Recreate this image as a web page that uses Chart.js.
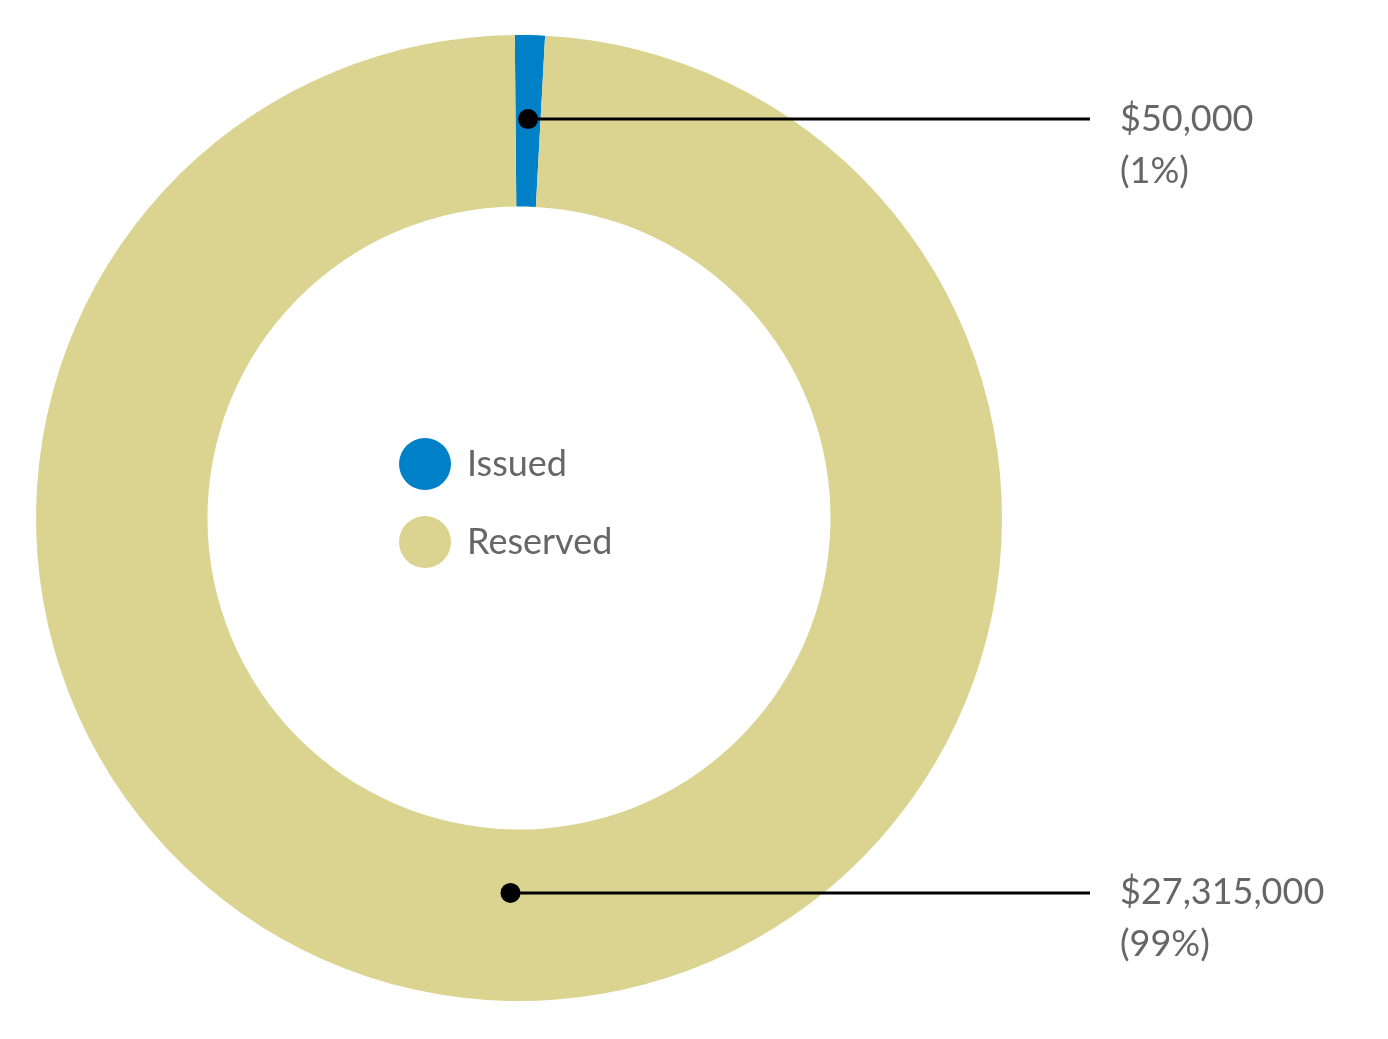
<!DOCTYPE html>
<html><head><meta charset="utf-8">
<script src="https://cdn.jsdelivr.net/npm/chart.js@4/dist/chart.umd.min.js"></script>
<style>html,body{margin:0;padding:0;background:#fff}#wrap{width:1388px;height:1039px}</style>
</head><body><div id="wrap"><canvas id="c"></canvas></div>
<script>
const categories = ["Issued", "Reserved"];
const amounts = ["$50,000", "$27,315,000"];
const shares = [1, 99];
const shareLabels = ["(1%)", "(99%)"];
const colors = ["#0080C6", "#DBD491"];
const FONT = "Lato, 'Open Sans', sans-serif";

const overlay = {
  id: "overlay",
  afterDatasetsDraw(chart) {
    const ctx = chart.ctx;
    const arcs = chart.getDatasetMeta(0).data;
    const fr = [0.51, 0.37];
    ctx.save();
    arcs.forEach((a, i) => {
      const mid = (a.startAngle + a.endAngle) / 2;
      const r = a.innerRadius + (a.outerRadius - a.innerRadius) * fr[i];
      const x = a.x + Math.cos(mid) * r, y = a.y + Math.sin(mid) * r;
      ctx.strokeStyle = "#000"; ctx.lineWidth = 3;
      ctx.beginPath(); ctx.moveTo(x, y); ctx.lineTo(1090, y); ctx.stroke();
      ctx.fillStyle = "#000"; ctx.beginPath(); ctx.arc(x, y, 10, 0, Math.PI * 2); ctx.fill();
      ctx.fillStyle = "#666"; ctx.font = "36px " + FONT; ctx.textBaseline = "middle"; ctx.textAlign = "left";
      ctx.fillText(amounts[i], 1120, y);
      ctx.fillText(shareLabels[i], 1120, y + 52);
    });
    // center legend
    const cx = arcs[0].x, cy = arcs[0].y;
    categories.forEach((c, i) => {
      const ly = cy - 54 + i * 78;
      ctx.fillStyle = colors[i];
      ctx.beginPath(); ctx.arc(cx - 94, ly, 26, 0, Math.PI * 2); ctx.fill();
      ctx.fillStyle = "#666"; ctx.font = "36px " + FONT; ctx.textBaseline = "middle";
      ctx.fillText(c, cx - 52, ly);
    });
    ctx.restore();
  }
};

new Chart(document.getElementById("c"), {
  type: "doughnut",
  data: { labels: categories, datasets: [{ data: shares, backgroundColor: colors, borderWidth: 0 }] },
  options: {
    responsive: true, maintainAspectRatio: false, animation: false,
    cutout: "64.5%", rotation: -0.5,
    layout: { padding: { left: 36, right: 386, top: 35, bottom: 38 } },
    plugins: { legend: { display: false }, tooltip: { enabled: false } }
  },
  plugins: [overlay]
});
</script></body></html>
